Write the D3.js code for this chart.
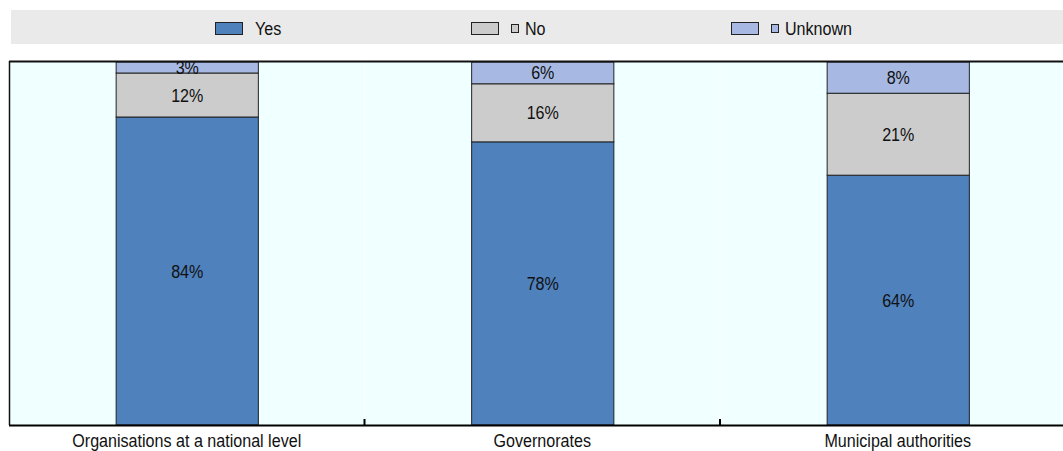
<!DOCTYPE html>
<html><head><meta charset="utf-8">
<script src="https://cdn.jsdelivr.net/npm/d3@7/dist/d3.min.js"></script>
<style>
html,body{margin:0;padding:0;background:#fff;}
svg{display:block;font-family:"Liberation Sans",Arial,sans-serif;}
</style></head>
<body>
<svg id="c" width="1063" height="451"></svg>
<script>
const categories = ["Organisations at a national level", "Governorates", "Municipal authorities"];
const seriesNames = ["Yes", "No", "Unknown"];
const yesValues = [84, 78, 64];
const noValues = [12, 16, 21];
const unknownValues = [3, 6, 8];
const colors = ["#4F81BD", "#CCCCCC", "#A7B9E3"];

(function () {
const rows = categories.map((c, i) => ({cat: c, Yes: yesValues[i], No: noValues[i], Unknown: unknownValues[i]}));

const svg = d3.select("#c");
const W = 1063;
const pLeft = 9, pTop = 62, pBottom = 425;
const step = 355.5;
const pRight = pLeft + step * 3;
const SX = 0.87, FS = 18.5;

function narrowText(parent, x, y, str, anchor) {
  parent.append("g").attr("transform", `translate(${x},${y}) scale(${SX},1)`)
    .append("text").attr("x", 0).attr("y", 0).attr("text-anchor", anchor || "start")
    .attr("font-size", FS).attr("fill", "#111").text(str);
}

const x = d3.scaleBand().domain(categories).range([pLeft, pRight]).paddingInner(0.6).paddingOuter(0.3);
const y = d3.scaleLinear().domain([0, 1]).range([pBottom, pTop]);

// legend band
svg.append("rect").attr("x", 11).attr("y", 10).attr("width", W - 11).attr("height", 34).attr("fill", "#EAEAEA");
const legendX = [215, 471, 731];
seriesNames.forEach((s, i) => {
  const g = svg.append("g").attr("transform", `translate(${legendX[i]},0)`);
  g.append("rect").attr("x", 0.5).attr("y", 22.5).attr("width", 27).attr("height", 12)
    .attr("fill", colors[i]).attr("stroke", "#222").attr("stroke-width", 1);
  let tx = 40;
  if (i > 0) {
    g.append("rect").attr("x", 40.5).attr("y", 24.5).attr("width", 7).attr("height", 8)
      .attr("fill", colors[i]).attr("stroke", "#222").attr("stroke-width", 1);
    tx = 54;
  }
  narrowText(g, tx, 34.5, s, "start");
});

// plot background
svg.append("rect").attr("x", pLeft).attr("y", pTop).attr("width", pRight - pLeft).attr("height", pBottom - pTop).attr("fill", "#F0FFFF");

// white separators at band boundaries
const bounds = [pLeft + step, pLeft + 2 * step];
svg.append("g").selectAll("line").data(bounds).join("line")
  .attr("x1", d => d).attr("x2", d => d).attr("y1", pTop).attr("y2", pBottom)
  .attr("stroke", "#fff").attr("stroke-width", 1);

// stacked normalized bars
const stack = d3.stack().keys(seriesNames).offset(d3.stackOffsetExpand);
const layers = stack(rows);
layers.forEach((layer, li) => {
  svg.append("g").selectAll("rect").data(layer).join("rect")
    .attr("x", d => x(d.data.cat) + 0.5)
    .attr("width", x.bandwidth())
    .attr("y", d => y(d[1]))
    .attr("height", d => y(d[0]) - y(d[1]))
    .attr("fill", colors[li]).attr("stroke", "#222").attr("stroke-width", 1);
});
const lblG = svg.append("g");
layers.forEach((layer) => {
  layer.forEach(d => {
    narrowText(lblG, x(d.data.cat) + x.bandwidth() / 2 + 0.5, (y(d[0]) + y(d[1])) / 2 + 6.5,
      d.data[layer.key] + "%", "middle");
  });
});

// borders
svg.append("line").attr("x1", pLeft).attr("x2", W).attr("y1", pTop - 0.5).attr("y2", pTop - 0.5).attr("stroke", "#111").attr("stroke-width", 2);
svg.append("line").attr("x1", pLeft + 0.5).attr("x2", pLeft + 0.5).attr("y1", pTop - 1).attr("y2", pBottom).attr("stroke", "#111").attr("stroke-width", 1.5);

// x axis
svg.append("line").attr("x1", pLeft).attr("x2", W).attr("y1", pBottom + 0.5).attr("y2", pBottom + 0.5).attr("stroke", "#000").attr("stroke-width", 2);
svg.append("g").selectAll("line").data(bounds).join("line")
  .attr("x1", d => d).attr("x2", d => d).attr("y1", pBottom - 6).attr("y2", pBottom)
  .attr("stroke", "#000").attr("stroke-width", 2);
const axG = svg.append("g");
categories.forEach(c => narrowText(axG, x(c) + x.bandwidth() / 2, 447, c, "middle"));
})();
</script>
</body></html>
